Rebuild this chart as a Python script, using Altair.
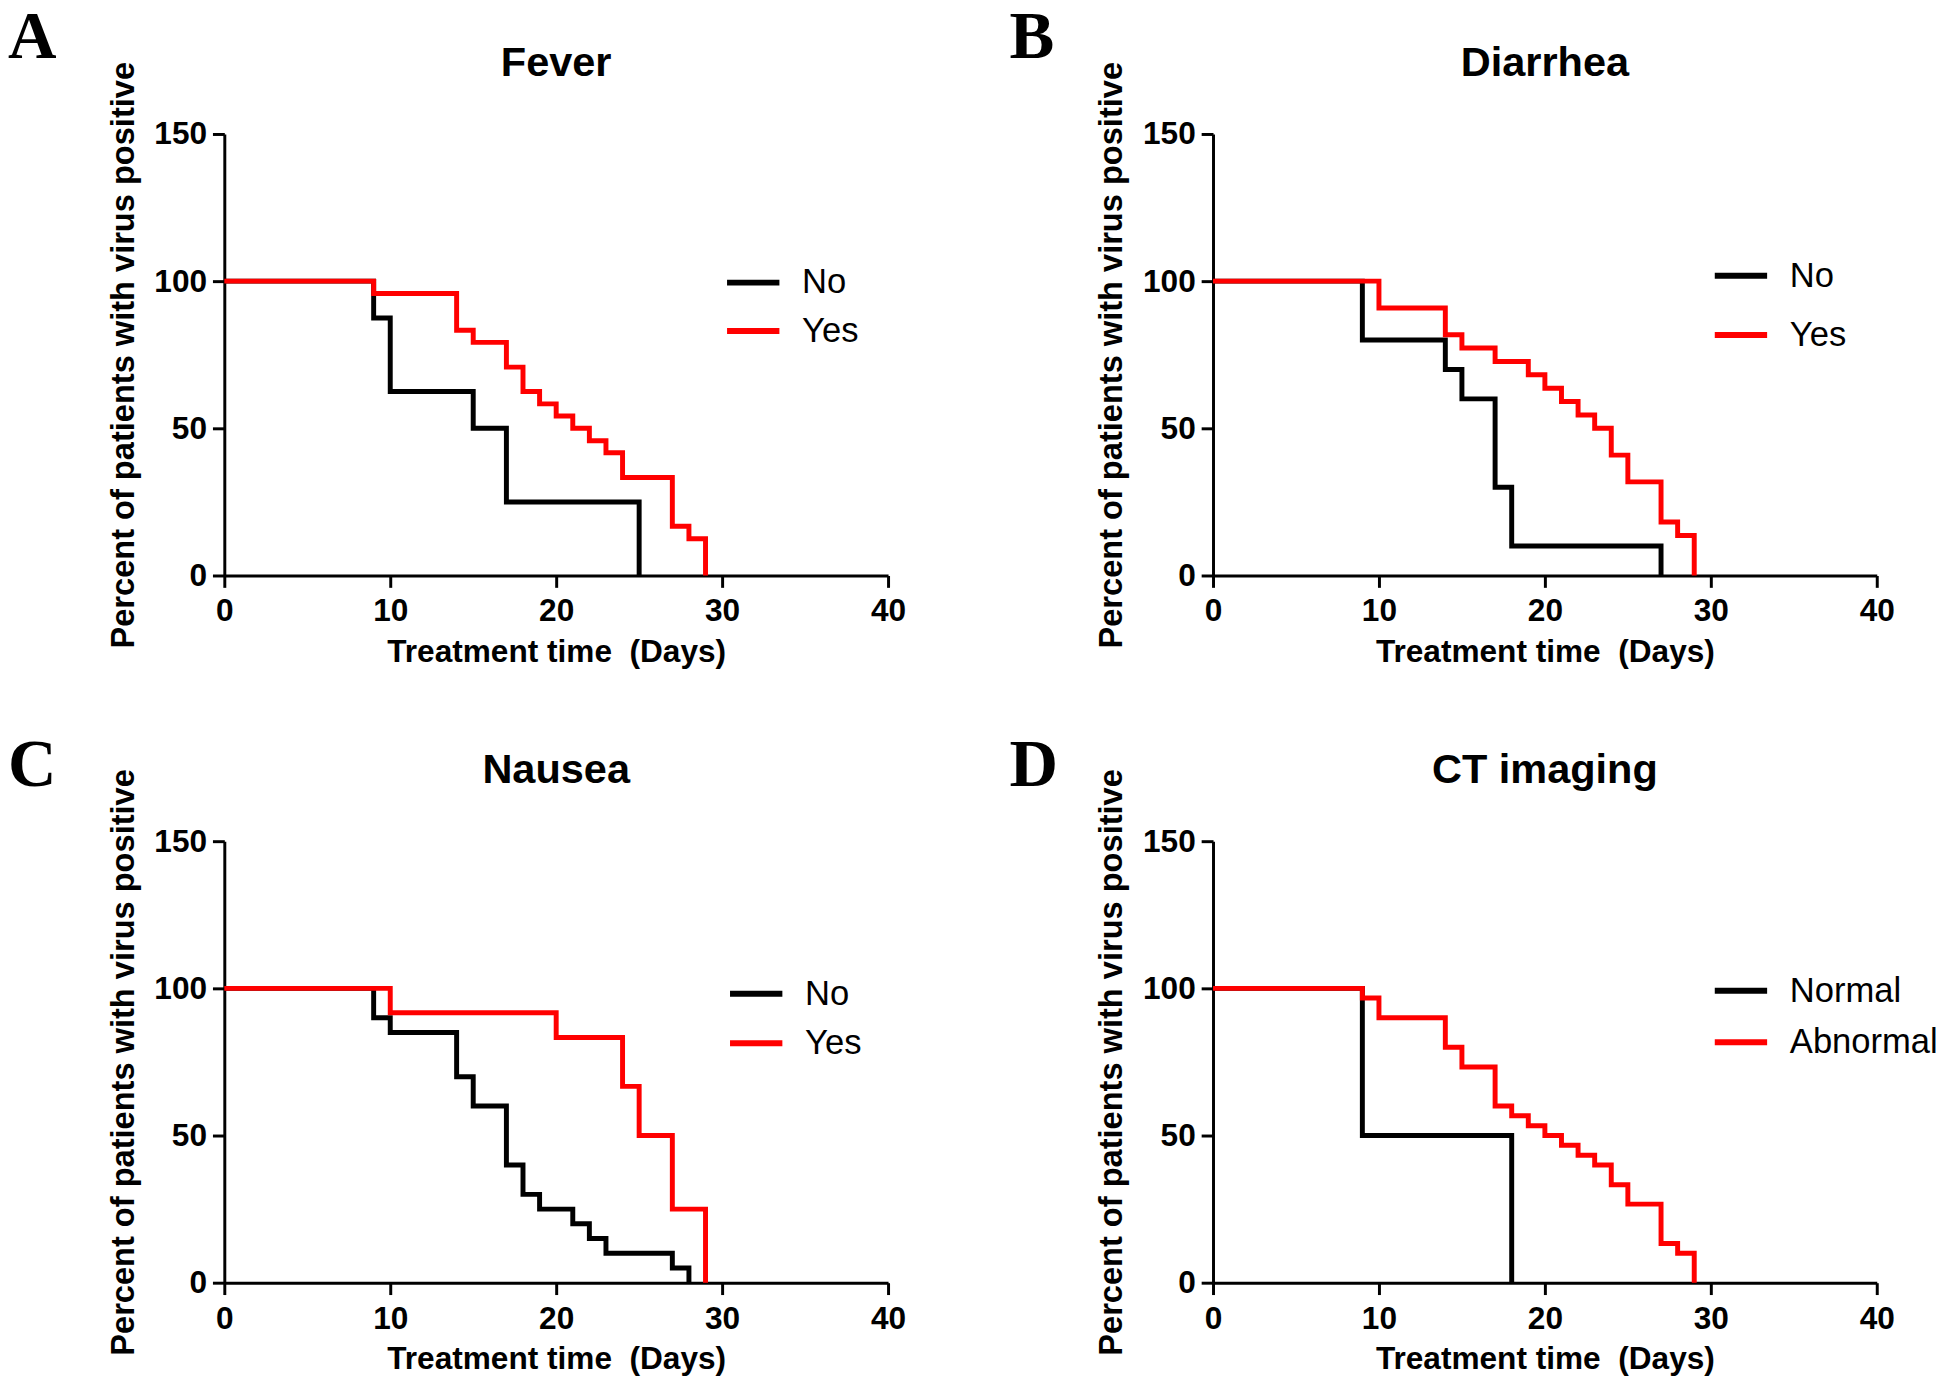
import altair as alt
import pandas as pd

# ---- data ----
LETTERS = ["A", "B", "C", "D"]
TITLES = ["Fever", "Diarrhea", "Nausea", "CT imaging"]
GROUPS = [["No", "Yes"], ["No", "Yes"], ["No", "Yes"], ["Normal", "Abnormal"]]

A_no_t = [0, 9, 10, 15, 17, 25]
A_no_s = [100, 87.5, 62.5, 50, 25, 0]
A_yes_t = [0, 9, 14, 15, 17, 18, 19, 20, 21, 22, 23, 24, 27, 28, 29]
A_yes_s = [100, 95.8, 83.3, 79.2, 70.8, 62.5, 58.3, 54.2, 50, 45.8, 41.7, 33.3, 16.7, 12.5, 0]

B_no_t = [0, 9, 14, 15, 17, 18, 27]
B_no_s = [100, 80, 70, 60, 30, 10, 0]
B_yes_t = [0, 10, 14, 15, 17, 19, 20, 21, 22, 23, 24, 25, 27, 28, 29]
B_yes_s = [100, 90.9, 81.8, 77.3, 72.7, 68.2, 63.6, 59.1, 54.5, 50, 40.9, 31.8, 18.2, 13.6, 0]

C_no_t = [0, 9, 10, 14, 15, 17, 18, 19, 21, 22, 23, 27, 28]
C_no_s = [100, 90, 85, 70, 60, 40, 30, 25, 20, 15, 10, 5, 0]
C_yes_t = [0, 10, 20, 24, 25, 27, 29]
C_yes_s = [100, 91.7, 83.3, 66.7, 50, 25, 0]

D_normal_t = [0, 9, 18]
D_normal_s = [100, 50, 0]
D_abn_t = [0, 9, 10, 14, 15, 17, 18, 19, 20, 21, 22, 23, 24, 25, 27, 28, 29]
D_abn_s = [100, 96.7, 90, 80, 73.3, 60, 56.7, 53.3, 50, 46.7, 43.3, 40, 33.3, 26.7, 13.3, 10, 0]

SERIES = [
    [(A_no_t, A_no_s), (A_yes_t, A_yes_s)],
    [(B_no_t, B_no_s), (B_yes_t, B_yes_s)],
    [(C_no_t, C_no_s), (C_yes_t, C_yes_s)],
    [(D_normal_t, D_normal_s), (D_abn_t, D_abn_s)],
]

X_TICKS = [0, 10, 20, 30, 40]
Y_TICKS = [0, 50, 100, 150]
X_TITLE = "Treatment time\u00a0 (Days)"
Y_TITLE = "Percent of patients with virus positive"

# ---- layout / style ----
W, H = 672, 447
SANS = "Liberation Sans, Arial, sans-serif"
SERIF = "Liberation Serif, Times New Roman, serif"
COLORS = ["#000000", "#ff0000"]
LETTER_X = [-219, -206, -219, -206]
LETTER_Y = [-77, -77, -56, -56]
LEG = [  # legendX, legendY, rowPadding
    (506, 121, 1),
    (505, 114, 12),
    (509, 125, 2),
    (505, 122, 4),
]


def panel(i):
    g0, g1 = GROUPS[i]
    rows = []
    for g, (ts, ss) in zip(GROUPS[i], SERIES[i]):
        for t, s in zip(ts, ss):
            rows.append({"day": t, "pct": s, "group": g})
    df = pd.DataFrame(rows)

    lx, ly, rp = LEG[i]
    legend = alt.Legend(
        title=None, orient="none", legendX=lx, legendY=ly, padding=0,
        symbolType="stroke", symbolStrokeWidth=6, symbolSize=2809,
        labelFont=SANS, labelFontSize=35, labelColor="#000000",
        labelOffset=20, rowPadding=rp, labelLimit=400,
    )
    xaxis = alt.Axis(
        values=X_TICKS, title=X_TITLE, grid=False, labelFlush=False,
        domainColor="#000000", domainWidth=3, tickColor="#000000", tickWidth=3,
        tickSize=12, labelPadding=9, labelFont=SANS, labelFontSize=32,
        labelFontWeight="bold", labelColor="#000000", titleFont=SANS,
        titleFontSize=32, titleFontWeight="bold", titleColor="#000000",
        titlePadding=10,
    )
    yaxis = alt.Axis(
        values=Y_TICKS, title=Y_TITLE, grid=False, labelFlush=False,
        domainColor="#000000", domainWidth=3, tickColor="#000000", tickWidth=3,
        tickSize=12, labelPadding=6, labelFont=SANS, labelFontSize=32,
        labelFontWeight="bold", labelColor="#000000", titleFont=SANS,
        titleFontSize=33, titleFontWeight="bold", titleColor="#000000",
        titlePadding=14,
    )
    enc = dict(
        x=alt.X("day:Q", scale=alt.Scale(domain=[0, 40], nice=False, zero=True), axis=xaxis),
        y=alt.Y("pct:Q", scale=alt.Scale(domain=[0, 150], nice=False, zero=True), axis=yaxis),
        color=alt.Color("group:N", scale=alt.Scale(domain=[g0, g1], range=COLORS),
                        sort=[g0, g1], legend=legend),
    )
    base = alt.Chart(df).mark_line(
        interpolate="step-after", strokeWidth=5, strokeJoin="miter", strokeCap="butt"
    ).encode(**enc)
    l0 = base.transform_filter(alt.datum.group == g0)
    l1 = base.transform_filter(alt.datum.group == g1)

    one = alt.Data(values=[{"k": 0}])
    title = alt.Chart(one).mark_text(
        font=SANS, fontSize=42, fontWeight="bold", color="#000000",
        align="center", baseline="alphabetic",
    ).encode(x=alt.value(W / 2), y=alt.value(-59), text=alt.value(TITLES[i]))
    letter = alt.Chart(one).mark_text(
        font=SERIF, fontSize=68, fontWeight="bold", color="#000000",
        align="left", baseline="alphabetic",
    ).encode(x=alt.value(LETTER_X[i]), y=alt.value(LETTER_Y[i]), text=alt.value(LETTERS[i]))

    return alt.layer(l0, l1, title, letter).properties(width=W, height=H)


row1 = alt.hconcat(panel(0), panel(1), spacing=105).resolve_scale(color="independent").resolve_legend(color="independent")
row2 = alt.hconcat(panel(2), panel(3), spacing=105).resolve_scale(color="independent").resolve_legend(color="independent")

chart = (
    alt.vconcat(row1, row2, spacing=66)
    .resolve_scale(color="independent")
    .resolve_legend(color="independent")
    .properties(padding={"top": -12, "left": 0, "right": 0, "bottom": 0}, background="#ffffff")
    .configure_view(strokeWidth=0)
)

chart.save("out.html", embed_options={"renderer": "svg", "actions": False})
